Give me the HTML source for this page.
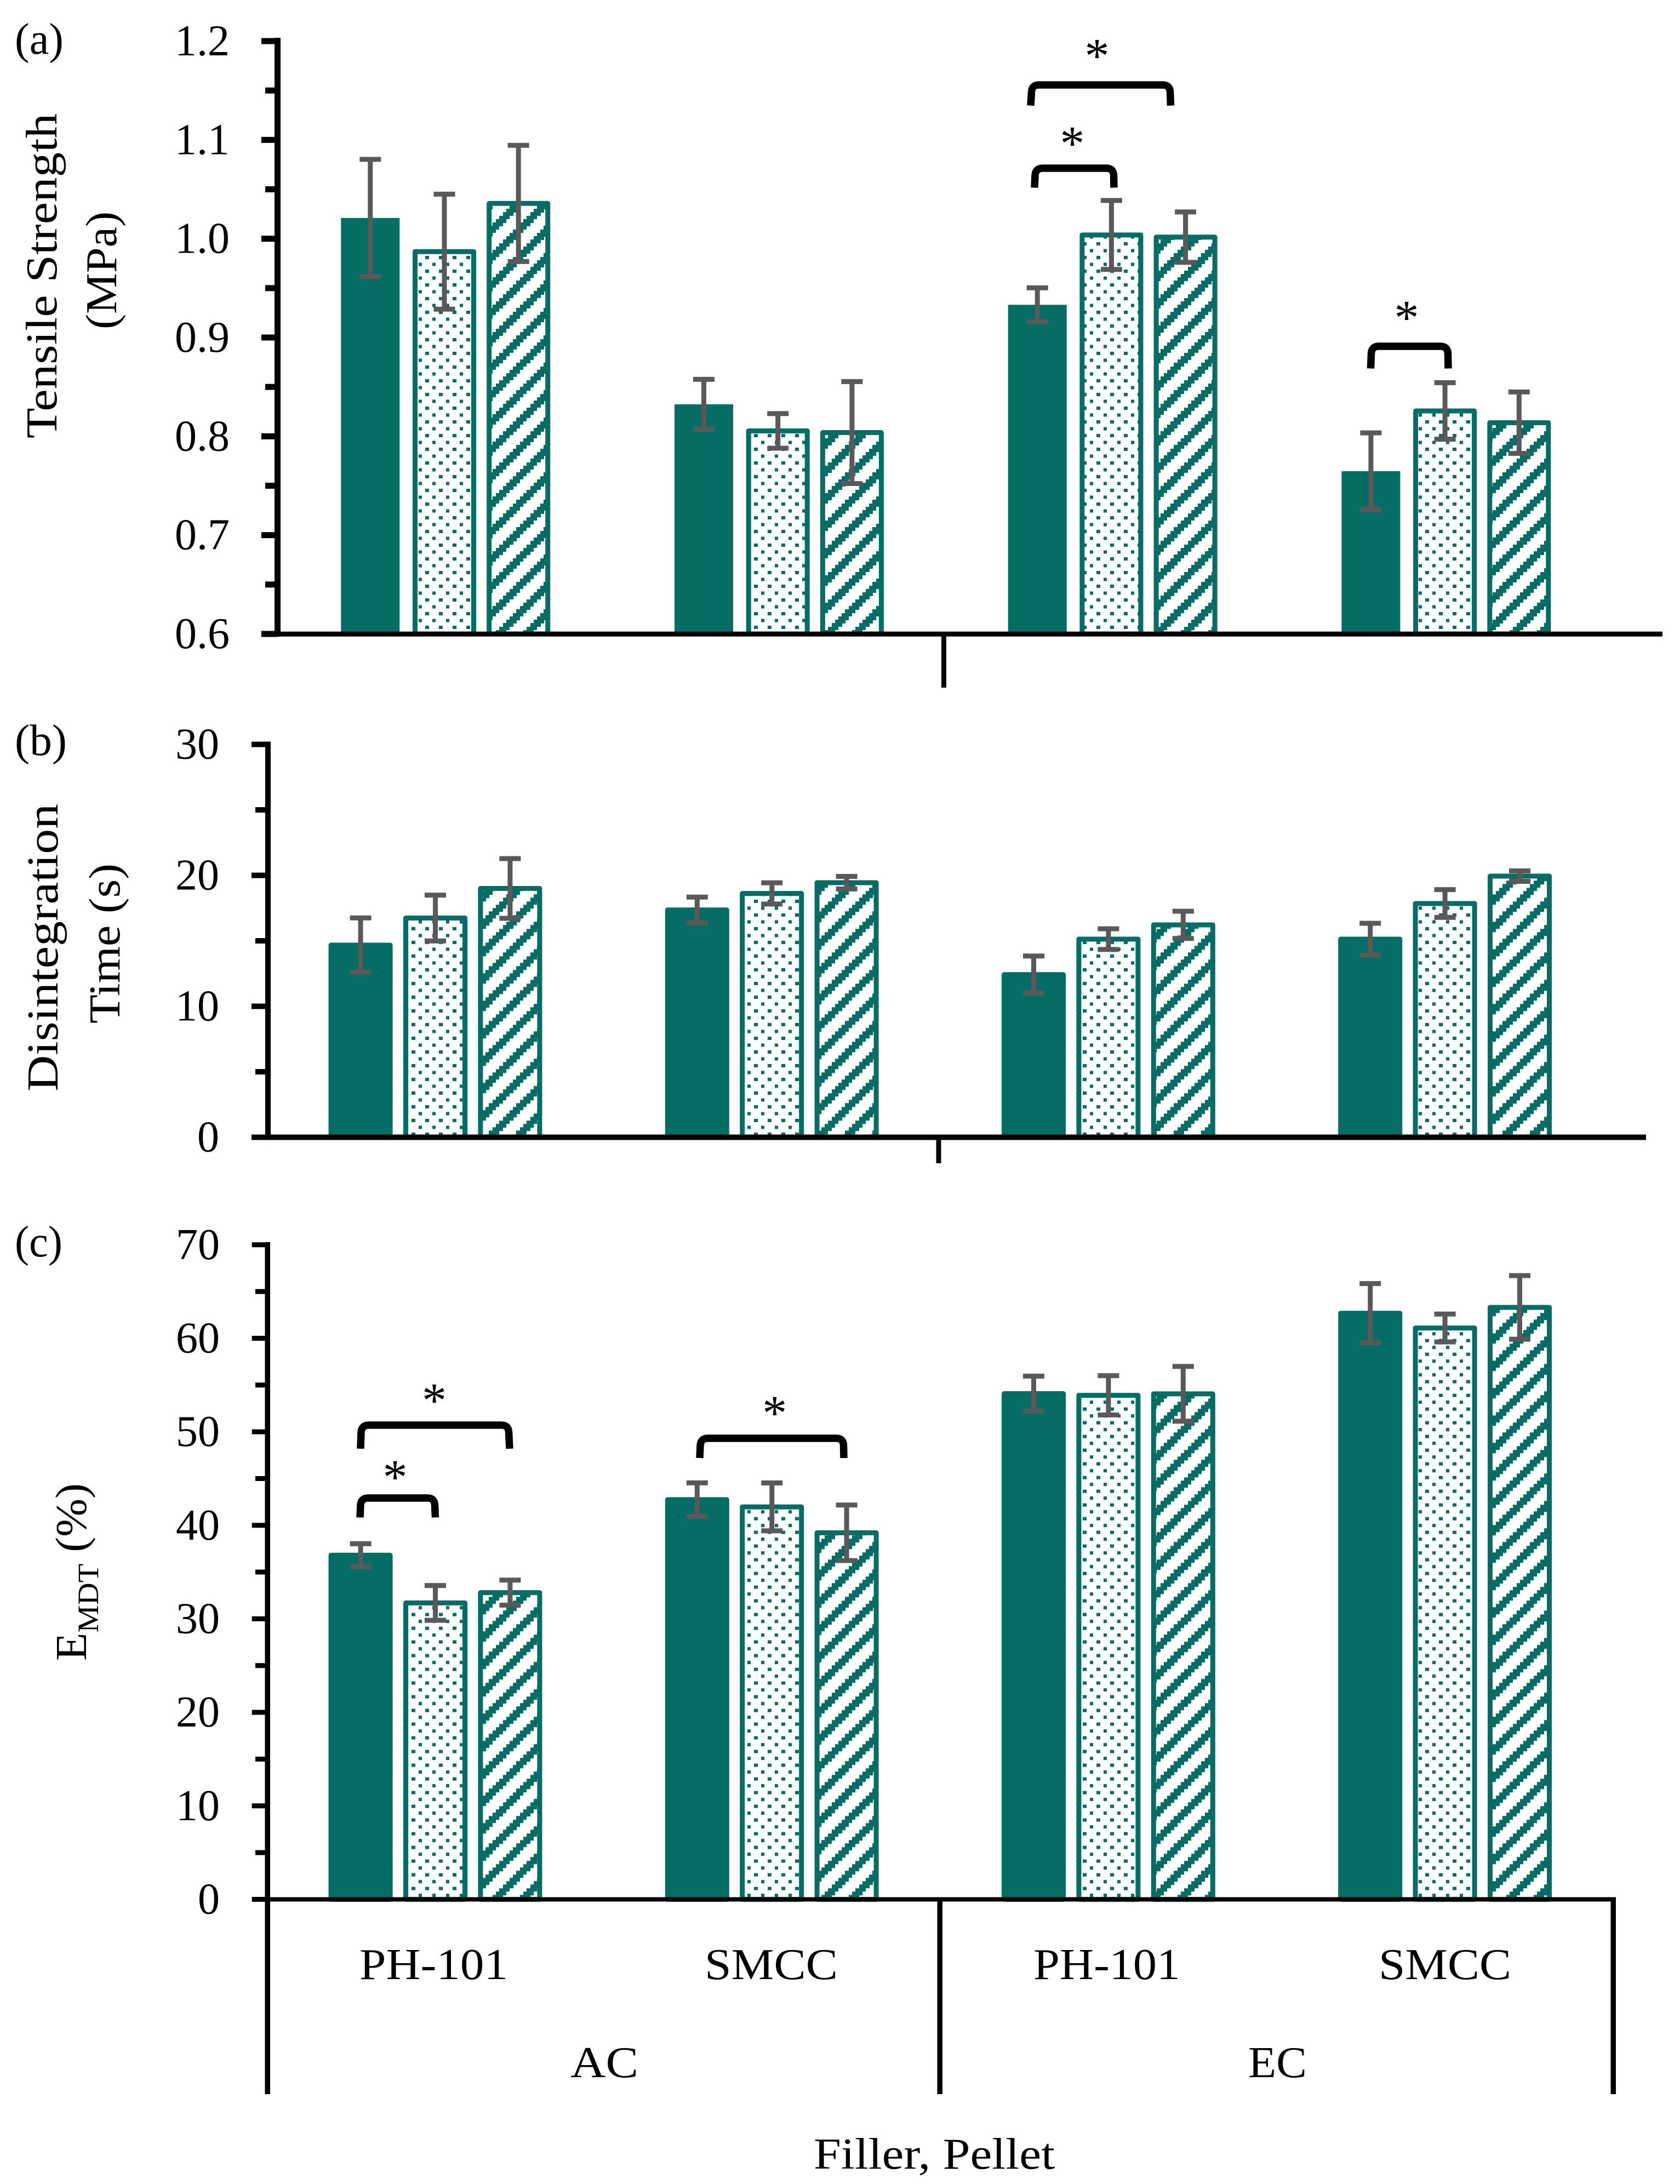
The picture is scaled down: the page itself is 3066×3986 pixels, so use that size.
<!DOCTYPE html>
<html lang="en">
<head>
<meta charset="utf-8">
<title>Tensile strength, disintegration time and EMDT by filler and pellet</title>
<style>
html,body{margin:0;padding:0;background:#fff;}
svg{display:block;}
text{font-family:"Liberation Serif","Noto Serif CJK SC",serif;font-size:80px;fill:#000;}
</style>
</head>
<body>
<svg id="fig" xmlns="http://www.w3.org/2000/svg" width="3066" height="3986" viewBox="0 0 3066 3986">
<defs>
<pattern id="dots" patternUnits="userSpaceOnUse" x="0" y="0" width="25" height="25">
<rect x="0" y="0" width="25" height="25" fill="#fff"/>
<rect x="0.8" y="17" width="7" height="6" fill="#056d64" shape-rendering="crispEdges"/>
<rect x="14" y="4.3" width="6" height="6" fill="#056d64" shape-rendering="crispEdges"/>
</pattern>
<pattern id="dotsC" patternUnits="userSpaceOnUse" x="0" y="1.7" width="25" height="25">
<rect x="0" y="0" width="25" height="25" fill="#fff"/>
<rect x="0.8" y="17" width="7" height="6" fill="#056d64" shape-rendering="crispEdges"/>
<rect x="14" y="4.3" width="6" height="6" fill="#056d64" shape-rendering="crispEdges"/>
</pattern>
<pattern id="hatchA" patternUnits="userSpaceOnUse" x="0" y="0" width="50" height="50">
<rect x="0" y="0" width="50" height="50" fill="#fff"/>
<path shape-rendering="crispEdges" fill="#056d64" d="M5 0h19v7h-19zM-1 6h19v7h-19zM49 6h19v7h-19zM-8 12h19v7h-19zM42 12h19v7h-19zM-14 19h19v6h-19zM36 19h19v6h-19zM30 25h19v7h-19zM24 31h19v7h-19zM18 37h19v7h-19zM11 44h19v6h-19z"/>
</pattern>
<pattern id="hatchB" patternUnits="userSpaceOnUse" x="0" y="1.3" width="50" height="50">
<rect x="0" y="0" width="50" height="50" fill="#fff"/>
<path shape-rendering="crispEdges" fill="#056d64" d="M5 0h19v7h-19zM-1 6h19v7h-19zM49 6h19v7h-19zM-8 12h19v7h-19zM42 12h19v7h-19zM-14 19h19v6h-19zM36 19h19v6h-19zM30 25h19v7h-19zM24 31h19v7h-19zM18 37h19v7h-19zM11 44h19v6h-19z"/>
</pattern>
<pattern id="hatchC" patternUnits="userSpaceOnUse" x="0" y="2.3" width="50" height="50">
<rect x="0" y="0" width="50" height="50" fill="#fff"/>
<path shape-rendering="crispEdges" fill="#056d64" d="M5 0h19v7h-19zM-1 6h19v7h-19zM49 6h19v7h-19zM-8 12h19v7h-19zM42 12h19v7h-19zM-14 19h19v6h-19zM36 19h19v6h-19zM30 25h19v7h-19zM24 31h19v7h-19zM18 37h19v7h-19zM11 44h19v6h-19z"/>
</pattern>
</defs>
<rect x="0" y="0" width="3066" height="3986" fill="#fff"/>

<g>
<text x="27" y="98" textLength="89" lengthAdjust="spacingAndGlyphs">(a)</text>
<text transform="translate(103,800) rotate(-90)" textLength="593" lengthAdjust="spacingAndGlyphs">Tensile Strength</text>
<text transform="translate(212,601) rotate(-90)" textLength="215" lengthAdjust="spacingAndGlyphs">(MPa)</text>
<g id="a-bars"></g>
<g id="a-ticks"></g>
<rect x="501" y="69" width="11" height="1093" fill="#000"/>
<rect x="501" y="1152.7" width="2533" height="9" fill="#000"/>
<rect x="1718" y="1157" width="9" height="98" fill="#000"/>
<g id="a-errors"></g>
<g class="sig">
<path d="M1881,192.7L1882.5,168Q1883,155 1896,155L2122,155Q2135,155 2135.5,168L2136.5,192.7" fill="none" stroke="#000" stroke-width="13.5"/>
<path d="M1888,342.5L1889,320Q1890,307 1903,307L2019,307Q2032,307 2032.5,320L2033,342.5" fill="none" stroke="#000" stroke-width="13.5"/>
<path d="M2501.5,672.5L2502.5,646Q2503,632 2516,632L2629,632Q2642,632 2642.5,646L2643,672.5" fill="none" stroke="#000" stroke-width="13.5"/>
<text x="2002" y="132" text-anchor="middle" style="font-size:90px">*</text>
<text x="1957" y="292" text-anchor="middle" style="font-size:90px">*</text>
<text x="2567" y="610" text-anchor="middle" style="font-size:90px">*</text>
</g>
</g>

<g>
<text x="27" y="1378" textLength="95" lengthAdjust="spacingAndGlyphs">(b)</text>
<text transform="translate(105,1992) rotate(-90)" textLength="525" lengthAdjust="spacingAndGlyphs">Disintegration</text>
<text transform="translate(218,1868) rotate(-90)" textLength="292" lengthAdjust="spacingAndGlyphs">Time (s)</text>
<g id="b-bars"></g>
<g id="b-ticks"></g>
<rect x="484" y="1353.5" width="10" height="727" fill="#000"/>
<rect x="484" y="2070.6" width="2520" height="10" fill="#000"/>
<rect x="1708.5" y="2075" width="9" height="48" fill="#000"/>
<g id="b-errors"></g>
</g>

<g>
<text x="27" y="2293" textLength="87" lengthAdjust="spacingAndGlyphs">(c)</text>
<text transform="translate(157,3031) rotate(-90)" textLength="324" lengthAdjust="spacingAndGlyphs">E<tspan dy="22" style="font-size:54px">MDT</tspan><tspan dy="-22"> (%)</tspan></text>
<g id="c-bars"></g>
<g id="c-ticks"></g>
<rect x="483.5" y="2267" width="9.5" height="1555" fill="#000"/>
<rect x="483.5" y="3462.5" width="2465" height="8" fill="#000"/>
<rect x="1710.5" y="3466" width="9.5" height="356" fill="#000"/>
<rect x="2939.5" y="3462.5" width="9.5" height="359.5" fill="#000"/>
<g id="c-errors"></g>
<g>
<path d="M658,2644L659,2614Q660,2601 673,2601L915,2601Q928,2601 928.5,2614L930,2644" fill="none" stroke="#000" stroke-width="13.5"/>
<path d="M657,2769.5L658,2747Q659,2734 672,2734L780,2734Q793,2734 793.5,2747L794.5,2769.5" fill="none" stroke="#000" stroke-width="13.5"/>
<path d="M1277,2661L1278,2638Q1279,2625 1292,2625L1526,2625Q1539,2625 1539.5,2638L1540,2661" fill="none" stroke="#000" stroke-width="13.5"/>
<text x="792.5" y="2586" text-anchor="middle" style="font-size:90px">*</text>
<text x="721" y="2726" text-anchor="middle" style="font-size:90px">*</text>
<text x="1413.7" y="2609" text-anchor="middle" style="font-size:90px">*</text>
</g>
<text x="656" y="3612" textLength="271" lengthAdjust="spacingAndGlyphs">PH-101</text>
<text x="1286" y="3612" textLength="243" lengthAdjust="spacingAndGlyphs">SMCC</text>
<text x="1886" y="3612" textLength="268" lengthAdjust="spacingAndGlyphs">PH-101</text>
<text x="2516" y="3612" textLength="242" lengthAdjust="spacingAndGlyphs">SMCC</text>
<text x="1041" y="3791" textLength="124" lengthAdjust="spacingAndGlyphs">AC</text>
<text x="2278" y="3791" textLength="107" lengthAdjust="spacingAndGlyphs">EC</text>
<text x="1485" y="3958" textLength="440" lengthAdjust="spacingAndGlyphs">Filler, Pellet</text>
</g>
</svg>

<script>
// Chart data: one value per category (PH-101/AC, SMCC/AC, PH-101/EC, SMCC/EC)
const categories = ['AC PH-101', 'AC SMCC', 'EC PH-101', 'EC SMCC'];

const tensileTicks = ['0.6', '0.7', '0.8', '0.9', '1.0', '1.1', '1.2'];
const tensileSolid = [1.021, 0.8324, 0.9331, 0.7647];
const tensileDotted = [0.9869, 0.8055, 1.0038, 0.8257];
const tensileHatched = [1.0357, 0.8038, 1.0016, 0.8138];
const tensileSolidErr = [0.0593, 0.0253, 0.0172, 0.0388];
const tensileDottedErr = [0.0582, 0.0175, 0.0349, 0.0286];
const tensileHatchedErr = [0.0588, 0.0516, 0.0255, 0.0311];

const disintTicks = ['0', '10', '20', '30'];
const disintSolid = [14.67, 17.36, 12.42, 15.13];
const disintDotted = [16.74, 18.62, 15.13, 17.85];
const disintHatched = [19.0, 19.44, 16.22, 19.94];
const disintSolidErr = [2.08, 0.98, 1.42, 1.21];
const disintDottedErr = [1.75, 0.81, 0.79, 1.06];
const disintHatchedErr = [2.28, 0.48, 1.04, 0.40];

const emdtTicks = ['0', '10', '20', '30', '40', '50', '60', '70'];
const emdtSolid = [36.8, 42.74, 54.08, 62.68];
const emdtDotted = [31.7, 41.97, 53.9, 61.1];
const emdtHatched = [32.8, 39.2, 54.06, 63.3];
const emdtSolidErr = [1.23, 1.8, 1.87, 3.17];
const emdtDottedErr = [1.86, 2.56, 2.1, 1.49];
const emdtHatchedErr = [1.34, 2.97, 2.93, 3.4];

const NS = 'http://www.w3.org/2000/svg';
function mk(tag, attrs, parent) {
  const n = document.createElementNS(NS, tag);
  for (const k in attrs) n.setAttribute(k, attrs[k]);
  parent.appendChild(n);
  return n;
}

function drawPanel(p) {
  const yScale = v => p.y0 + (v - p.vMin) * (p.y1 - p.y0) / (p.vMax - p.vMin);
  const xScale = (cat, s) => p.xFirst + p.catStep * cat + p.barPitch * (s - 1);
  const barsG = document.getElementById(p.id + '-bars');
  const ticksG = document.getElementById(p.id + '-ticks');
  const errG = document.getElementById(p.id + '-errors');

  // ticks
  const tickVals = p.ticks.map(Number);
  tickVals.forEach((v, i) => {
    const y = yScale(v);
    const t = mk('rect', {x: p.majorLeft, y: y - p.tickH / 2, width: p.axisX - p.majorLeft, height: p.tickH, fill: '#000'}, ticksG);
    
    
    const l = mk('text', {x: p.labelRight, y: y + 26, 'text-anchor': 'end'}, ticksG);
    l.textContent = p.ticks[i];
    
    
    if (i < tickVals.length - 1) {
      const ym = yScale((v + tickVals[i + 1]) / 2);
      const m = mk('rect', {x: p.minorLeft, y: ym - p.tickH / 2, width: p.axisX - p.minorLeft, height: p.tickH, fill: '#000'}, ticksG);
      
      
    }
  });

  // bars
  p.series.forEach((vals, s) => {
    vals.forEach((v, c) => {
      const cx = xScale(c, s);
      const top = yScale(v);
      const attrs = {x: cx - p.barW / 2, y: top, width: p.barW, height: p.y0 - top, fill: p.fills[s]};
      if (s > 0 || p.solidStroke) {
        attrs.stroke = '#056d64';
        attrs['stroke-width'] = 9;
        attrs['stroke-linejoin'] = 'round';
      }
      const b = mk('rect', attrs, barsG);
      
      
      const title = mk('title', {}, b);
      title.textContent = categories[c] + ': ' + v;

      const e = p.errors[s][c];
      const yHi = yScale(v + e);
      const yLo = yScale(v - e);
      const stem = mk('rect', {x: cx - 4.5, y: yHi, width: 9, height: yLo - yHi, fill: '#595959'}, errG);
      
      
      const capHi = mk('rect', {x: cx - 19.5, y: yHi - 4.5, width: 39, height: 9, fill: '#595959'}, errG);
      
      
      const capLo = mk('rect', {x: cx - 19.5, y: yLo - 4.5, width: 39, height: 9, fill: '#595959'}, errG);
      
      
    });
  });
}

drawPanel({
  id: 'a', ticks: tensileTicks, vMin: 0.6, vMax: 1.2, y0: 1157, y1: 75,
  axisX: 506, majorLeft: 477, minorLeft: 484, tickH: 11, labelRight: 419,
  xFirst: 811, catStep: 608.7, barPitch: 135.2, barW: 107, solidStroke: false,
  fills: ['#056d64', 'url(#dots)', 'url(#hatchA)'],
  series: [tensileSolid, tensileDotted, tensileHatched],
  errors: [tensileSolidErr, tensileDottedErr, tensileHatchedErr]
});
drawPanel({
  id: 'b', ticks: disintTicks, vMin: 0, vMax: 30, y0: 2075.6, y1: 1358.6,
  axisX: 489, majorLeft: 459, minorLeft: 466, tickH: 10, labelRight: 400,
  xFirst: 794.5, catStep: 614.2, barPitch: 136.4, barW: 108, solidStroke: true,
  fills: ['#056d64', 'url(#dots)', 'url(#hatchB)'],
  series: [disintSolid, disintDotted, disintHatched],
  errors: [disintSolidErr, disintDottedErr, disintHatchedErr]
});
drawPanel({
  id: 'c', ticks: emdtTicks, vMin: 0, vMax: 70, y0: 3466.5, y1: 2271.8,
  axisX: 489, majorLeft: 459.7, minorLeft: 466, tickH: 9, labelRight: 401,
  xFirst: 794.5, catStep: 614.2, barPitch: 136.4, barW: 108, solidStroke: true,
  fills: ['#056d64', 'url(#dotsC)', 'url(#hatchC)'],
  series: [emdtSolid, emdtDotted, emdtHatched],
  errors: [emdtSolidErr, emdtDottedErr, emdtHatchedErr]
});
</script>
</body>
</html>
